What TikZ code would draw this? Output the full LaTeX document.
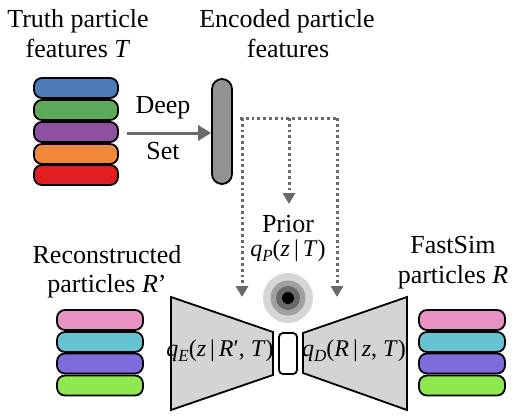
\documentclass[tikz,border=0pt]{standalone}
\usepackage{fontspec}
\setmainfont{Liberation Serif}
\usetikzlibrary{arrows.meta}
\definecolor{cBlue}{RGB}{74,122,184}
\definecolor{cGreen}{RGB}{94,170,92}
\definecolor{cPurple}{RGB}{142,80,160}
\definecolor{cOrange}{RGB}{240,136,58}
\definecolor{cRed}{RGB}{226,30,34}
\definecolor{cPink}{RGB}{232,146,196}
\definecolor{cCyan}{RGB}{102,196,210}
\definecolor{cViolet}{RGB}{126,108,220}
\definecolor{cLime}{RGB}{142,232,80}
\definecolor{cBar}{RGB}{146,146,146}
\definecolor{cTrap}{RGB}{212,212,212}
\definecolor{cArrow}{RGB}{105,105,105}
\definecolor{cG1}{RGB}{214,214,214}
\definecolor{cG2}{RGB}{160,160,160}
\definecolor{cG3}{RGB}{105,105,105}
\newcommand\mysub[1]{\raisebox{-0.22em}{\fontsize{17}{17}\selectfont\textit{#1}}}
\tikzset{
  x=1pt, y=-1pt,
  lbl/.style={anchor=base, font=\fontsize{26}{30}\selectfont, inner sep=0pt},
  mlbl/.style={anchor=base, font=\fontsize{24}{28}\selectfont, inner sep=0pt},
  pbar/.style={draw=black, line width=1.8pt, rounded corners=8pt, minimum width=#1, minimum height=20pt, inner sep=0pt},
  pbar/.default=84pt,
  solidarrow/.style={draw=cArrow, line width=3pt, -{Triangle[length=13pt,width=15pt]}},
  dotline/.style={draw=cArrow, line width=3pt, dash pattern=on 2.8pt off 3pt},
  dotarrow/.style={dotline, -{Triangle[length=11pt,width=12pt]}},
  trap/.style={draw=black, line width=1.8pt, fill=cTrap, line join=miter},
}
\begin{document}
\begin{tikzpicture}
\useasboundingbox (0,0) rectangle (515,418);
% truth stack
\node[pbar, fill=cBlue] (t1) at (76,88) {};
\node[pbar, fill=cGreen] (t2) at (76,110) {};
\node[pbar, fill=cPurple] (t3) at (76,132) {};
\node[pbar, fill=cOrange] (t4) at (76,154) {};
\node[pbar, fill=cRed] (t5) at (76,175) {};
\node[lbl] (truthA) at (78,27) {Truth particle};
\node[lbl] (truthB) at (78,57) {features \textit{T}};
% encoded bar
\node[draw=black, line width=1.8pt, fill=cBar, rounded corners=10pt, minimum width=20pt, minimum height=105pt, inner sep=0pt] (enc) at (222,131.5) {};
\node[lbl] (encA) at (287,27) {Encoded particle};
\node[lbl] (encB) at (288,57) {features};
% deep set arrow
\coordinate (dsS) at (127,133);
\draw[solidarrow] (dsS) -- (enc.west |- dsS);
\node[lbl] (deep) at (163,113) {Deep};
\node[lbl] (set) at (163,159) {Set};
% dotted lines
\coordinate (dh) at (240,118);
\coordinate (dl) at (242,118);
\coordinate (dm) at (289,118);
\coordinate (dr) at (337,118);
\coordinate (al) at (242,297);
\coordinate (am) at (289,204);
\coordinate (ar) at (337,297);
\draw[dotline] (dh) -- (dr);
\draw[dotarrow] (dl) -- (al);
\draw[dotarrow] (dm) -- (am);
\draw[dotarrow] (dr) -- (ar);
\node[lbl] (prior) at (288,232) {Prior};
\node[mlbl] (qp) at (288,256) {\textit{q}\mysub{P}(\textit{z}\,|\,\textit{T})};
% gaussian
\fill[cG1] (288,298) circle (25);
\fill[cG2] (288,298) circle (17.5);
\fill[cG3] (288,298) circle (12);
\fill[black] (288,298) circle (6);
% encoder / latent / decoder
\draw[trap] (171,297) -- (273,332) -- (273,375) -- (171,410) -- cycle;
\node[draw=black, line width=1.8pt, fill=white, rounded corners=4pt, minimum width=18pt, minimum height=41pt, inner sep=0pt] (lat) at (288,353.5) {};
\draw[trap] (303,333) -- (407,297) -- (407,410) -- (303,373) -- cycle;
\node[mlbl] (qe) at (220,356) {\textit{q}\mysub{E}(\textit{z}\,|\,\textit{R}′, \textit{T})};
\node[mlbl] (qd) at (354,356) {\textit{q}\mysub{D}(\textit{R}\,|\,\textit{z}, \textit{T})};
% reconstructed stack
\node[pbar=86pt, fill=cPink] (r1) at (100,320) {};
\node[pbar=86pt, fill=cCyan] (r2) at (100,342) {};
\node[pbar=86pt, fill=cViolet] (r3) at (100,363.5) {};
\node[pbar=86pt, fill=cLime] (r4) at (100,385.5) {};
\node[lbl] (recA) at (107,263) {Reconstructed};
\node[lbl] (recB) at (107,292) {particles \textit{R}’};
% fastsim stack
\node[pbar=86pt, fill=cPink] (f1) at (462,320) {};
\node[pbar=86pt, fill=cCyan] (f2) at (462,342) {};
\node[pbar=86pt, fill=cViolet] (f3) at (462,363.5) {};
\node[pbar=86pt, fill=cLime] (f4) at (462,385.5) {};
\node[lbl] (fsA) at (453,253) {FastSim};
\node[lbl] (fsB) at (453,283) {particles \textit{R}};
\end{tikzpicture}
\end{document}
